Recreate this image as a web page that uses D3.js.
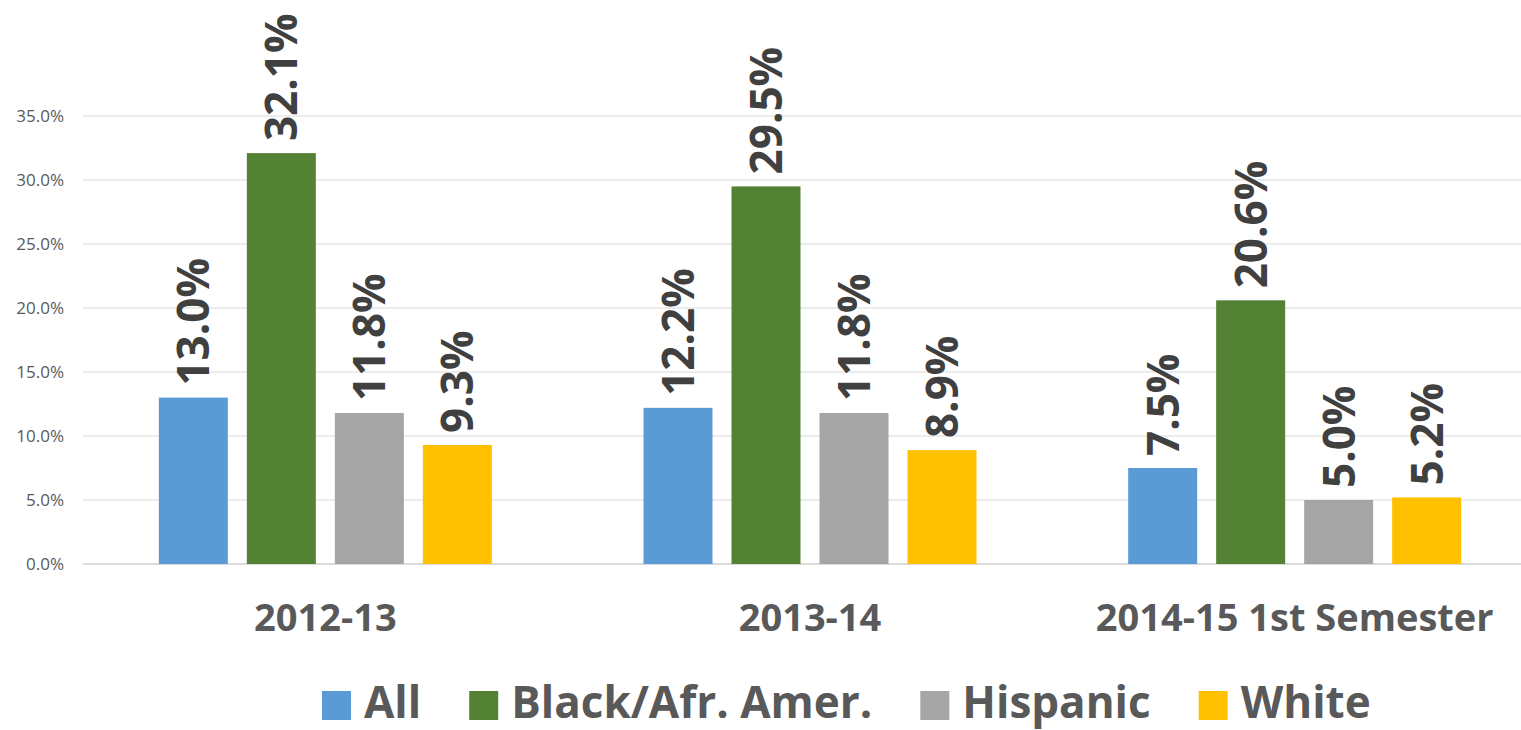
<!DOCTYPE html>
<html>
<head>
<meta charset="utf-8">
<script src="https://cdn.jsdelivr.net/npm/d3@7"></script>
<style>
  body { margin: 0; background: #fff; }
  text { font-family: "Open Sans", "Noto Sans", sans-serif; }
</style>
</head>
<body>
<div id="chart"></div>
<script>
// data
const years = ["2012-13", "2013-14", "2014-15 1st Semester"];
const groups = ["All", "Black/Afr. Amer.", "Hispanic", "White"];
const allRates = [13.0, 12.2, 7.5];
const blackRates = [32.1, 29.5, 20.6];
const hispanicRates = [11.8, 11.8, 5.0];
const whiteRates = [9.3, 8.9, 5.2];
const yTicks = [0, 5, 10, 15, 20, 25, 30, 35];
const colors = ["#5b9bd5", "#548235", "#a5a5a5", "#ffc000"];

const series = [allRates, blackRates, hispanicRates, whiteRates];
const data = [];
years.forEach((yr, i) => {
  groups.forEach((g, j) => data.push({year: yr, group: g, value: series[j][i]}));
});

const W = 1521, H = 730;
const svg = d3.select("#chart").append("svg")
  .attr("width", W).attr("height", H);

const x0 = d3.scaleBand().domain(years).range([83, 1537]);
const groupWidth = 88 * 4 - 19;
const x1 = d3.scaleBand().domain(groups).range([0, groupWidth]).paddingInner(19 / 88).paddingOuter(0);
const y = d3.scaleLinear().domain([0, 35]).range([564, 116]);

// gridlines
svg.append("g")
  .selectAll("line")
  .data(yTicks)
  .join("line")
    .attr("x1", 83).attr("x2", W)
    .attr("y1", d => y(d)).attr("y2", d => y(d))
    .attr("stroke", d => d === 0 ? "#d0d0d0" : "#d9d9d9")
    .attr("stroke-width", d => d === 0 ? 1.5 : 1);

// y axis labels
svg.append("g")
  .selectAll("text")
  .data(yTicks)
  .join("text")
    .attr("x", 64)
    .attr("y", d => y(d))
    .attr("dy", "0.35em")
    .attr("text-anchor", "end")
    .attr("fill", "#595959")
    .style("font-size", "17px")
    .text(d => d.toFixed(1) + "%");

const gx = d => x0(d) + (x0.bandwidth() - groupWidth) / 2;

// bars
svg.append("g")
  .selectAll("rect")
  .data(data)
  .join("rect")
    .attr("x", d => gx(d.year) + x1(d.group))
    .attr("y", d => y(d.value))
    .attr("width", x1.bandwidth())
    .attr("height", d => y(0) - y(d.value))
    .attr("fill", d => colors[groups.indexOf(d.group)]);

// value labels (rotated)
svg.append("g")
  .selectAll("text")
  .data(data)
  .join("text")
    .attr("transform", d => {
      const cx = gx(d.year) + x1(d.group) + x1.bandwidth() / 2;
      return `translate(${cx},${y(d.value) - 12}) rotate(-90)`;
    })
    .attr("dy", "0.36em")
    .attr("text-anchor", "start")
    .attr("fill", "#404040")
    .style("font-size", "44px")
    .style("font-weight", "bold")
    .text(d => d.value.toFixed(1) + "%");

// category labels
svg.append("g")
  .selectAll("text")
  .data(years)
  .join("text")
    .attr("x", d => x0(d) + x0.bandwidth() / 2)
    .attr("y", 631)
    .attr("text-anchor", "middle")
    .attr("fill", "#595959")
    .style("font-size", "38px")
    .style("font-weight", "bold")
    .text(d => d);

// legend
const legend = svg.append("g");
let lx = 322;
groups.forEach((g, i) => {
  legend.append("rect")
    .attr("x", lx).attr("y", 691)
    .attr("width", 29).attr("height", 29)
    .attr("fill", colors[i]);
  const t = legend.append("text")
    .attr("x", lx + 42).attr("y", 718)
    .attr("fill", "#595959")
    .style("font-size", "44px")
    .style("font-weight", "bold")
    .text(g);
  lx += 42 + t.node().getComputedTextLength() + 48;
});
</script>
</body>
</html>
